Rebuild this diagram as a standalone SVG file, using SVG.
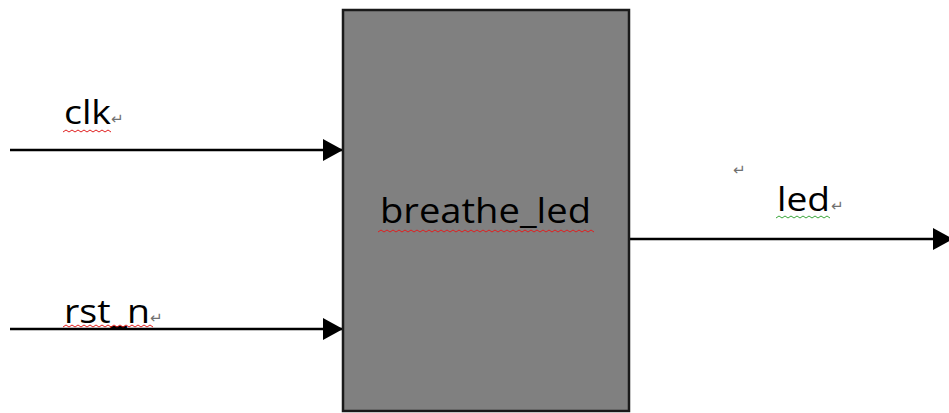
<svg xmlns="http://www.w3.org/2000/svg" width="949" height="413" viewBox="0 0 949 413">
<style>
.lbl{font-family:"Open Sans","Liberation Sans",sans-serif;fill:#000;}
.pm{font-family:"DejaVu Sans",sans-serif;font-size:15px;fill:#707070;}
.wire{stroke:#000;stroke-width:2.5;fill:none;}
.sq{fill:none;stroke-width:1;}
</style>
<defs>
<marker id="ah" viewBox="0 0 20 22" refX="20" refY="11" markerWidth="20" markerHeight="22" markerUnits="userSpaceOnUse" orient="auto">
<path d="M0,0 L20,11 L0,22 Z" fill="#000"/>
</marker>
</defs>
<g id="connectors">
<line class="wire" x1="10" y1="150" x2="343" y2="150" marker-end="url(#ah)"/>
<line class="wire" x1="10" y1="329" x2="343" y2="329" marker-end="url(#ah)"/>
<line class="wire" x1="629" y1="239" x2="953" y2="239" marker-end="url(#ah)"/>
</g>
<g id="breathe_led">
<rect x="343" y="10" width="286" height="401" fill="#808080" stroke="#1a1a1a" stroke-width="2.5"/>
<text class="lbl" x="380" y="223" font-size="35" textLength="211" lengthAdjust="spacingAndGlyphs">breathe_led</text>
<path class="sq" stroke="#e02020" d="M378,232 l3,-2 l3,2 l3,-2 l3,2 l3,-2 l3,2 l3,-2 l3,2 l3,-2 l3,2 l3,-2 l3,2 l3,-2 l3,2 l3,-2 l3,2 l3,-2 l3,2 l3,-2 l3,2 l3,-2 l3,2 l3,-2 l3,2 l3,-2 l3,2 l3,-2 l3,2 l3,-2 l3,2 l3,-2 l3,2 l3,-2 l3,2 l3,-2 l3,2 l3,-2 l3,2 l3,-2 l3,2 l3,-2 l3,2 l3,-2 l3,2 l3,-2 l3,2 l3,-2 l3,2 l3,-2 l3,2 l3,-2 l3,2 l3,-2 l3,2 l3,-2 l3,2 l3,-2 l3,2 l3,-2 l3,2 l3,-2 l3,2 l3,-2 l3,2 l3,-2 l3,2 l3,-2 l3,2 l3,-2 l3,2 l3,-2 l3,2"/>
</g>
<g id="clk">
<text class="lbl" x="64" y="124" font-size="32" textLength="47" lengthAdjust="spacingAndGlyphs">clk</text>
<text class="pm" x="111" y="124">↵</text>
<path class="sq" stroke="#e02020" d="M63,132 l3,-2 l3,2 l3,-2 l3,2 l3,-2 l3,2 l3,-2 l3,2 l3,-2 l3,2 l3,-2 l3,2 l3,-2 l3,2 l3,-2 l3,2"/>
</g>
<g id="rst_n">
<text class="lbl" x="64" y="323" font-size="32" textLength="86" lengthAdjust="spacingAndGlyphs">rst_n</text>
<text class="pm" x="150" y="323">↵</text>
<path class="sq" stroke="#e02020" d="M63,327 l3,-2 l3,2 l3,-2 l3,2 l3,-2 l3,2 l3,-2 l3,2 l3,-2 l3,2 l3,-2 l3,2 l3,-2 l3,2 l3,-2 l3,2 l3,-2 l3,2 l3,-2 l3,2 l3,-2 l3,2 l3,-2 l3,2 l3,-2 l3,2 l3,-2 l3,2 l3,-2 l3,2"/>
</g>
<g id="led">
<text class="pm" x="733" y="175">↵</text>
<text class="lbl" x="777" y="211" font-size="32" textLength="53" lengthAdjust="spacingAndGlyphs">led</text>
<text class="pm" x="831" y="211">↵</text>
<path class="sq" stroke="#3aa63a" d="M776,218 l3,-2 l3,2 l3,-2 l3,2 l3,-2 l3,2 l3,-2 l3,2 l3,-2 l3,2 l3,-2 l3,2 l3,-2 l3,2 l3,-2 l3,2 l3,-2 l3,2"/>
</g>
</svg>
